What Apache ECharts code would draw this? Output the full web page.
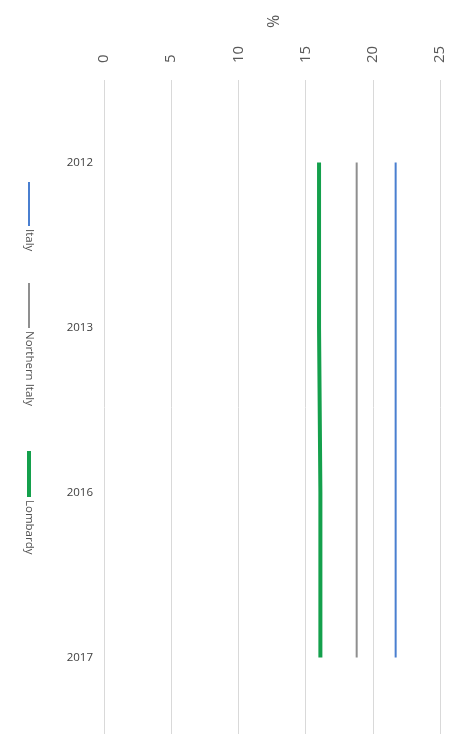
<!DOCTYPE html>
<html>
<head>
<meta charset="utf-8">
<script src="https://cdn.jsdelivr.net/npm/echarts@6/dist/echarts.min.js"></script>
<style>
  html, body { margin: 0; padding: 0; background: #fff; }
  #chart { width: 457px; height: 734px; }
</style>
</head>
<body>
<div id="chart"></div>
<script>
// data
const years = ['2012', '2013', '2016', '2017'];
const italy = [21.7, 21.7, 21.7, 21.7];
const northernItaly = [18.8, 18.8, 18.8, 18.8];
const lombardy = [16.0, 16.0, 16.1, 16.1];
const seriesNames = ['Italy', 'Northern Italy', 'Lombardy'];
const colors = ['#4a7fd0', '#8f8f8f', '#14a04c'];
const widths = [2, 2, 4];

const chart = echarts.init(document.getElementById('chart'));

// rotated legend (drawn as graphics because legend text can't rotate)
const legendItems = [
  { lineTop: 182, lineBottom: 226, textTop: 229 },
  { lineTop: 283, lineBottom: 328, textTop: 331 },
  { lineTop: 451, lineBottom: 497, textTop: 500 }
];
const legendGraphics = [];
legendItems.forEach((it, i) => {
  legendGraphics.push({
    type: 'line',
    shape: { x1: 29, y1: it.lineTop, x2: 29, y2: it.lineBottom },
    style: { stroke: colors[i], lineWidth: widths[i] }
  });
  legendGraphics.push({
    type: 'text',
    x: 29, y: it.textTop,
    rotation: -Math.PI / 2,
    style: {
      text: seriesNames[i],
      fill: '#505050',
      font: '11.5px "Open Sans"',
      textAlign: 'left',
      textVerticalAlign: 'middle'
    }
  });
});

const mkSeries = (name, data, i) => ({
  name: name,
  type: 'line',
  data: data,
  symbol: 'none',
  lineStyle: { color: colors[i], width: widths[i] },
  itemStyle: { color: colors[i] }
});

chart.setOption({
  animation: false,
  textStyle: { fontFamily: 'Open Sans' },
  grid: { left: 104, right: 17, top: 80, bottom: -6, outerBoundsMode: 'none' },
  xAxis: {
    type: 'value',
    position: 'top',
    min: 0,
    max: 25,
    interval: 5,
    name: '%',
    nameLocation: 'middle',
    nameGap: 52,
    nameRotate: -90,
    nameTextStyle: { color: '#595959', fontSize: 16 },
    axisLine: { show: false },
    axisTick: { show: false },
    axisLabel: { rotate: -90, margin: 17, color: '#595959', fontSize: 15 },
    splitLine: { lineStyle: { color: '#d9d9d9', width: 1 } }
  },
  yAxis: {
    type: 'category',
    data: years,
    inverse: true,
    boundaryGap: true,
    axisLine: { show: false },
    axisTick: { show: false },
    axisLabel: { margin: 11, color: '#404040', fontSize: 11.5 }
  },
  graphic: legendGraphics,
  series: [
    mkSeries(seriesNames[0], italy, 0),
    mkSeries(seriesNames[1], northernItaly, 1),
    mkSeries(seriesNames[2], lombardy, 2)
  ]
});
</script>
</body>
</html>
